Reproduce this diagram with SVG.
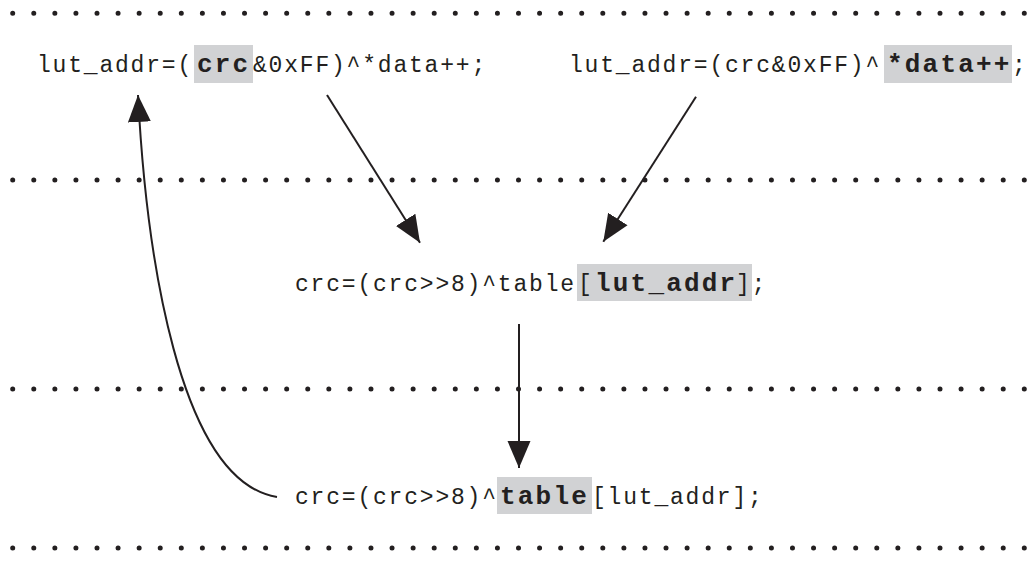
<svg xmlns="http://www.w3.org/2000/svg" width="1031" height="562" viewBox="0 0 1031 562">
<style>
.bg{fill:#ffffff}
.dots{stroke:#231f20;stroke-width:5;stroke-linecap:round;stroke-dasharray:0 21.075;fill:none}
.t{font-family:"Liberation Mono","Courier New",monospace;font-size:23px;letter-spacing:1.8px;fill:#231f20}
.b{font-family:"Liberation Mono","Courier New",monospace;font-size:26px;font-weight:bold;letter-spacing:2.2px;fill:#231f20}
.hl{fill:#d1d2d4}
.conn{stroke:#231f20;stroke-width:2;fill:none}
</style>
<defs>
<marker id="ah" markerUnits="userSpaceOnUse" markerWidth="28" markerHeight="24" refX="27" refY="11.5" orient="auto" viewBox="0 0 28 23">
<path d="M0,0 L27,11.5 L0,23 z" fill="#231f20"/>
</marker>
</defs>
<rect class="bg" x="0" y="0" width="1031" height="562"/>
<g id="separators">
<line class="dots" x1="12.7" y1="13.3" x2="1024.4" y2="13.3"/>
<line class="dots" x1="12.7" y1="180" x2="1024.4" y2="180"/>
<line class="dots" x1="12.7" y1="389" x2="1024.4" y2="389"/>
<line class="dots" x1="12.7" y1="548" x2="1024.4" y2="548"/>
</g>
<g id="node-lut-crc">
<rect class="hl" x="194" y="45" width="59" height="38"/>
<text class="t" y="72"><tspan x="37">lut_addr=(</tspan><tspan class="b" x="197">crc</tspan><tspan x="253">&amp;0xFF)^*data++;</tspan></text>
</g>
<g id="node-lut-data">
<rect class="hl" x="884" y="45" width="128" height="38"/>
<text class="t" y="72"><tspan x="569">lut_addr=(crc&amp;0xFF)^</tspan><tspan class="b" x="887">*data++</tspan><tspan x="1012">;</tspan></text>
</g>
<g id="node-crc-lut">
<rect class="hl" x="577" y="264" width="175" height="37"/>
<text class="t" y="291"><tspan x="295">crc=(crc&gt;&gt;8)^table</tspan><tspan x="578">[</tspan><tspan class="b" x="595">lut_addr</tspan><tspan x="736">];</tspan></text>
</g>
<g id="node-crc-table">
<rect class="hl" x="497" y="477" width="95" height="37"/>
<text class="t" y="504"><tspan x="295">crc=(crc&gt;&gt;8)^</tspan><tspan class="b" x="500">table</tspan><tspan x="592">[lut_addr];</tspan></text>
</g>
<g id="connectors">
<line class="conn" x1="327" y1="95" x2="420" y2="242.7" marker-end="url(#ah)"/>
<line class="conn" x1="696" y1="96.7" x2="603.3" y2="241.7" marker-end="url(#ah)"/>
<line class="conn" x1="519" y1="324" x2="519" y2="468" marker-end="url(#ah)"/>
<path class="conn" d="M277,497 C178,481 146,250 138,95" marker-end="url(#ah)"/>
</g>
</svg>
